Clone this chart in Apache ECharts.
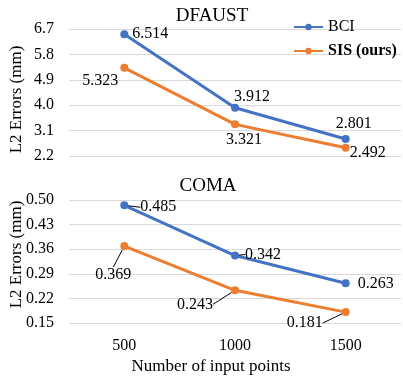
<!DOCTYPE html>
<html>
<head>
<meta charset="utf-8">
<script src="https://cdn.jsdelivr.net/npm/echarts@6/dist/echarts.min.js"></script>
<style>
  html, body { margin: 0; padding: 0; background: #fff; }
  #chart { width: 403px; height: 376px; }
</style>
</head>
<body>
<div id="chart"></div>
<script>
// 数据
var categories = ["500", "1000", "1500"];
var dfaustBCI = [6.514, 3.912, 2.801];
var dfaustSIS = [5.323, 3.321, 2.492];
var comaBCI = [0.485, 0.342, 0.263];
var comaSIS = [0.369, 0.243, 0.181];

(function() {
  var myChart = echarts.init(document.getElementById("chart"));
  var font = "Liberation Serif";
  var blue = "#4472C4";
  var orange = "#ED7D31";

  // 标签位置 [position, dx, dy, 引导线]
  var placeTopBCI = [["right", 0, 0, false], ["top", 17, 5, false], ["top", 8, 1, false]];
  var placeTopSIS = [["left", 2, 13, false], ["bottom", 9, -1, false], ["right", -4, 5, false]];
  var placeBotBCI = [["right", 8, 2, true], ["right", 2, -1, true], ["right", 4, 1, false]];
  var placeBotSIS = [["bottom", -11, 13, true], ["left", -14, 14, true], ["left", -15, 11, true]];

  function makeData(values, place) {
    return values.map(function(v, i) {
      return {
        value: v,
        label: { position: place[i][0] },
        labelLine: { show: place[i][3] }
      };
    });
  }
  function layout(place) {
    return function(params) {
      return { dx: place[params.dataIndex][1], dy: place[params.dataIndex][2] };
    };
  }

  function series(name, color, values, place, idx) {
    return {
      name: name,
      type: "line",
      xAxisIndex: idx,
      yAxisIndex: idx,
      symbol: "circle",
      symbolSize: 8,
      color: color,
      lineStyle: { width: 3, color: color },
      itemStyle: { color: color },
      data: makeData(values, place),
      label: {
        show: true, color: "#000", fontFamily: font, fontSize: 16, distance: 4,
        formatter: function(p) { return p.value.toFixed(3); }
      },
      labelLine: { show: true, lineStyle: { color: "#000", width: 1 } },
      labelLayout: layout(place),
      animation: false
    };
  }

  var axisLabel = { color: "#000", fontFamily: font, fontSize: 16 };
  var splitLine = { lineStyle: { color: "#d9d9d9", width: 1 } };
  var titleStyle = { fontFamily: font, fontSize: 19, fontWeight: "normal", color: "#000" };

  var option = {
    title: [
      { text: "DFAUST", left: 207, top: 2, textAlign: "center", textStyle: titleStyle },
      { text: "COMA", left: 203, top: 172, textAlign: "center", textStyle: titleStyle }
    ],
    legend: {
      orient: "vertical",
      left: 288,
      top: 14,
      itemWidth: 29,
      itemHeight: 8,
      itemGap: 8,
      data: ["BCI", "SIS (ours)"],
      formatter: function(name) {
        return name === "SIS (ours)" ? "{b|" + name + "}" : name;
      },
      textStyle: {
        color: "#000", fontFamily: font, fontSize: 16,
        rich: { b: { fontWeight: "bold", fontFamily: font, fontSize: 16, color: "#000" } }
      }
    },
    grid: [
      { left: 65, right: 2, top: 29, height: 127 },
      { left: 65, right: 2, top: 200, height: 123 }
    ],
    xAxis: [
      { type: "category", gridIndex: 0, data: categories,
        axisLine: { show: false }, axisTick: { show: false }, axisLabel: { show: false } },
      { type: "category", gridIndex: 1, data: categories,
        axisLine: { show: false }, axisTick: { show: false },
        axisLabel: Object.assign({ margin: 15 }, axisLabel),
        name: "Number of input points", nameLocation: "middle", nameGap: 35,
        nameMoveOverlap: false,
        nameTextStyle: { color: "#000", fontFamily: font, fontSize: 17, padding: [0, 48, 0, 0] } }
    ],
    yAxis: [
      { type: "value", gridIndex: 0, min: 2.2, max: 6.7, interval: 0.9,
        axisLine: { show: false }, axisTick: { show: false },
        axisLabel: Object.assign({ margin: 15, formatter: function(v) { return v.toFixed(1); } }, axisLabel),
        splitLine: splitLine,
        name: "L2 Errors (mm)", nameLocation: "middle", nameGap: 44, nameRotate: 90,
        nameMoveOverlap: false,
        nameTextStyle: { color: "#000", fontFamily: font, fontSize: 17, padding: [0, 14, 0, 0] } },
      { type: "value", gridIndex: 1, min: 0.15, max: 0.50, interval: 0.07,
        axisLine: { show: false }, axisTick: { show: false },
        axisLabel: Object.assign({ margin: 15, formatter: function(v) { return v.toFixed(2); } }, axisLabel),
        splitLine: splitLine,
        name: "L2 Errors (mm)", nameLocation: "middle", nameGap: 44, nameRotate: 90,
        nameMoveOverlap: false,
        nameTextStyle: { color: "#000", fontFamily: font, fontSize: 17, padding: [0, 0, 0, 14] } }
    ],
    series: [
      series("BCI", blue, dfaustBCI, placeTopBCI, 0),
      series("SIS (ours)", orange, dfaustSIS, placeTopSIS, 0),
      series("BCI", blue, comaBCI, placeBotBCI, 1),
      series("SIS (ours)", orange, comaSIS, placeBotSIS, 1)
    ]
  };

  myChart.setOption(option);
  window.addEventListener("resize", function() {
    myChart.resize();
  });
})();
</script>
</body>
</html>
